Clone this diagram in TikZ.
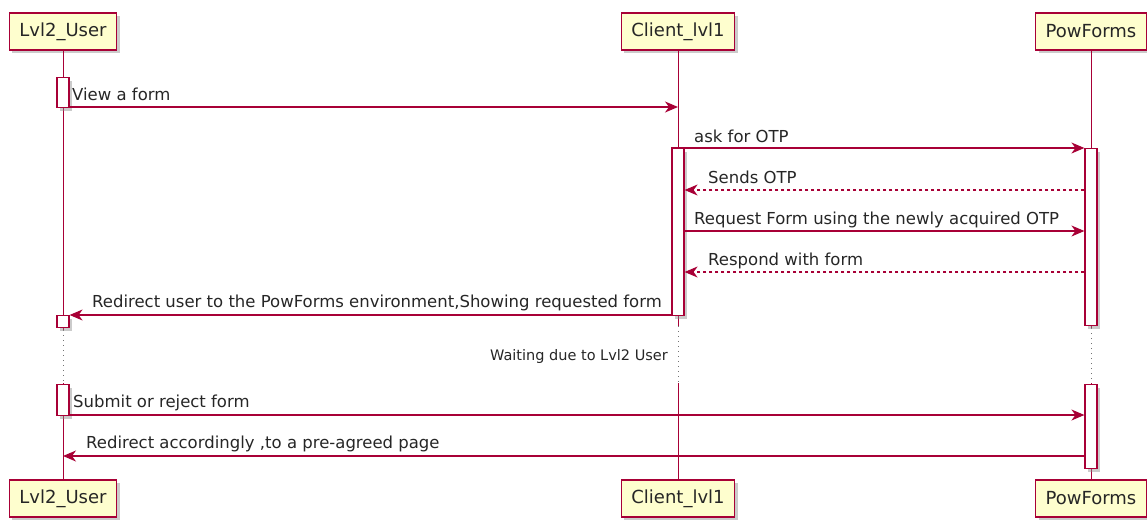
\documentclass[tikz,border=0pt]{standalone}
\usepackage{fontspec}
\setmainfont{DejaVu Sans}
\usetikzlibrary{arrows.meta,shadows}
\definecolor{pborder}{HTML}{A80036}
\definecolor{pfill}{HTML}{FEFECE}
\begin{document}
\begin{tikzpicture}[x=1pt,y=-1pt,
  part/.style={draw=pborder, fill=pfill, line width=1.2pt, minimum height=37pt, inner xsep=10pt, inner ysep=0pt,
    font=\fontsize{18}{21}\selectfont, text=black!85,
    drop shadow={shadow xshift=3pt, shadow yshift=-3pt, fill=black!45, opacity=0.45}},
  life/.style={draw=pborder, line width=1pt},
  dotlife/.style={draw=black!55, line width=1pt, dash pattern=on 1pt off 4pt},
  actbar/.style={draw=pborder, fill=white, line width=1.2pt, minimum width=12pt, inner sep=0pt, anchor=north,
    drop shadow={shadow xshift=3pt, shadow yshift=-3pt, fill=black!45, opacity=0.45}},
  msg/.style={draw=pborder, line width=1.2pt, -{Stealth[length=13pt,width=11pt,inset=4pt]}},
  reply/.style={msg, dash pattern=on 3pt off 3pt},
  lbl/.style={font=\fontsize{16.5}{19}\selectfont, text=black!85, inner sep=0pt, anchor=base west},
]
\useasboundingbox (0,0) rectangle (1147,525);

% participants
\node[part] (ut) at (63,31.5) {Lvl2\_User};
\node[part] (ct) at (678,31.5) {Client\_lvl1};
\node[part] (pt) at (1091,31.5) {PowForms};
\node[part] (ub) at (63,498.5) {Lvl2\_User};
\node[part] (cb) at (678,498.5) {Client\_lvl1};
\node[part] (pb) at (1091,498.5) {PowForms};

% divider coordinates
\coordinate (ud1) at (63,330);  \coordinate (ud2) at (63,383);
\coordinate (cd1) at (678,326); \coordinate (cd2) at (678,383);
\coordinate (pd1) at (1091,328); \coordinate (pd2) at (1091,383);

% lifelines
\draw[life] (ut.south) -- (ud1);
\draw[dotlife] (ud1) -- (ud2);
\draw[life] (ud2) -- (ub.north);
\draw[life] (ct.south) -- (cd1);
\draw[dotlife] (cd1) -- (cd2);
\draw[life] (cd2) -- (cb.north);
\draw[life] (pt.south) -- (pd1);
\draw[dotlife] (pd1) -- (pd2);
\draw[life] (pd2) -- (pb.north);

% activation bars
\node[actbar, minimum height=30pt] (ua1) at (63,77) {};
\node[actbar, minimum height=167pt] (ca1) at (678,148) {};
\node[actbar, minimum height=177pt] (pa1) at (1091,148) {};
\node[actbar, minimum height=12pt] (ua2) at (63,315) {};
\node[actbar, minimum height=31pt] (ua3) at (63,384) {};
\node[actbar, minimum height=84pt] (pa2) at (1091,384) {};

% message end points
\coordinate (m1a) at (ua1.east |- 0,107);  \coordinate (m1b) at (678,107);
\coordinate (m2a) at (ca1.west |- 0,148);  \coordinate (m2b) at (pa1.west |- 0,148);
\coordinate (m3a) at (pa1.west |- 0,190);  \coordinate (m3b) at (ca1.east |- 0,190);
\coordinate (m4a) at (ca1.east |- 0,231);  \coordinate (m4b) at (pa1.west |- 0,231);
\coordinate (m5a) at (pa1.west |- 0,272);  \coordinate (m5b) at (ca1.east |- 0,272);
\coordinate (m6a) at (ca1.west |- 0,315);  \coordinate (m6b) at (ua2.east |- 0,315);
\coordinate (m8a) at (ua3.east |- 0,415);  \coordinate (m8b) at (pa2.west |- 0,415);
\coordinate (m9a) at (pa2.west |- 0,456);  \coordinate (m9b) at (63,456);

% messages
\draw[msg] (m1a) -- (m1b);
\draw[msg] (m2a) -- (m2b);
\draw[reply] (m3a) -- (m3b);
\draw[msg] (m4a) -- (m4b);
\draw[reply] (m5a) -- (m5b);
\draw[msg] (m6a) -- (m6b);
\draw[msg] (m8a) -- (m8b);
\draw[msg] (m9a) -- (m9b);

% labels
\node[lbl] (l1) at (72,100) {View a form};
\node[lbl] (l2) at (694,142) {ask for OTP};
\node[lbl] (l3) at (708,183) {Sends OTP};
\node[lbl] (l4) at (694,224) {Request Form using the newly acquired OTP};
\node[lbl] (l5) at (708,265) {Respond with form};
\node[lbl] (l6) at (92,307) {Redirect user to the PowForms environment,Showing requested form};
\node[font=\fontsize{14.5}{17}\selectfont, text=black!85, inner sep=0pt, anchor=base east] (l7) at (668,360) {Waiting due to Lvl2 User};
\node[lbl] (l8) at (73,407) {Submit or reject form};
\node[lbl] (l9) at (86,448) {Redirect accordingly ,to a pre-agreed page};
\end{tikzpicture}
\end{document}
